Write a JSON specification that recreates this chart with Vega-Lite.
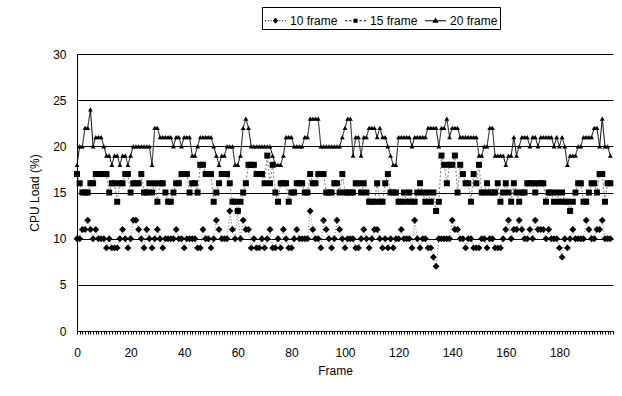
{
  "$schema": "https://vega.github.io/schema/vega-lite/v6.json",
  "width": 536,
  "height": 277,
  "autosize": {"type": "none"},
  "padding": {"left": 77, "top": 54, "right": 9, "bottom": 65},
  "background": "white",
  "config": {
    "view": {"stroke": null},
    "font": "Liberation Sans",
    "axis": {"labelFont": "Liberation Sans", "titleFont": "Liberation Sans", "labelColor": "black", "titleColor": "black", "domainColor": "black", "tickColor": "black", "titleFontWeight": "normal", "labelFontSize": 12, "titleFontSize": 12},
    "legend": {"strokeColor": "black", "strokeWidth": 1, "fillColor": "white"}
  },
  "data": {
    "values": [
      {"frame": 0, "10 frame": 10, "15 frame": 17, "20 frame": 18},
      {"frame": 1, "10 frame": 10, "15 frame": 16, "20 frame": 20},
      {"frame": 2, "10 frame": 11, "15 frame": 15, "20 frame": 20},
      {"frame": 3, "10 frame": 11, "15 frame": 15, "20 frame": 22},
      {"frame": 4, "10 frame": 12, "15 frame": 15, "20 frame": 22},
      {"frame": 5, "10 frame": 11, "15 frame": 16, "20 frame": 24},
      {"frame": 6, "10 frame": 10, "15 frame": 16, "20 frame": 20},
      {"frame": 7, "10 frame": 11, "15 frame": 17, "20 frame": 21},
      {"frame": 8, "10 frame": 10, "15 frame": 17, "20 frame": 21},
      {"frame": 9, "10 frame": 10, "15 frame": 17, "20 frame": 21},
      {"frame": 10, "10 frame": 10, "15 frame": 17, "20 frame": 20},
      {"frame": 11, "10 frame": 9, "15 frame": 17, "20 frame": 19},
      {"frame": 12, "10 frame": 10, "15 frame": 15, "20 frame": 19},
      {"frame": 13, "10 frame": 9, "15 frame": 16, "20 frame": 18},
      {"frame": 14, "10 frame": 9, "15 frame": 16, "20 frame": 19},
      {"frame": 15, "10 frame": 9, "15 frame": 14, "20 frame": 19},
      {"frame": 16, "10 frame": 10, "15 frame": 16, "20 frame": 18},
      {"frame": 17, "10 frame": 11, "15 frame": 16, "20 frame": 19},
      {"frame": 18, "10 frame": 10, "15 frame": 17, "20 frame": 19},
      {"frame": 19, "10 frame": 9, "15 frame": 17, "20 frame": 18},
      {"frame": 20, "10 frame": 10, "15 frame": 15, "20 frame": 19},
      {"frame": 21, "10 frame": 12, "15 frame": 16, "20 frame": 20},
      {"frame": 22, "10 frame": 12, "15 frame": 16, "20 frame": 20},
      {"frame": 23, "10 frame": 11, "15 frame": 16, "20 frame": 20},
      {"frame": 24, "10 frame": 10, "15 frame": 17, "20 frame": 20},
      {"frame": 25, "10 frame": 9, "15 frame": 15, "20 frame": 20},
      {"frame": 26, "10 frame": 11, "15 frame": 15, "20 frame": 20},
      {"frame": 27, "10 frame": 10, "15 frame": 16, "20 frame": 20},
      {"frame": 28, "10 frame": 9, "15 frame": 15, "20 frame": 18},
      {"frame": 29, "10 frame": 10, "15 frame": 16, "20 frame": 22},
      {"frame": 30, "10 frame": 11, "15 frame": 14, "20 frame": 22},
      {"frame": 31, "10 frame": 10, "15 frame": 16, "20 frame": 21},
      {"frame": 32, "10 frame": 9, "15 frame": 16, "20 frame": 21},
      {"frame": 33, "10 frame": 10, "15 frame": 15, "20 frame": 21},
      {"frame": 34, "10 frame": 10, "15 frame": 14, "20 frame": 21},
      {"frame": 35, "10 frame": 10, "15 frame": 14, "20 frame": 21},
      {"frame": 36, "10 frame": 10, "15 frame": 15, "20 frame": 20},
      {"frame": 37, "10 frame": 11, "15 frame": 16, "20 frame": 21},
      {"frame": 38, "10 frame": 10, "15 frame": 16, "20 frame": 21},
      {"frame": 39, "10 frame": 10, "15 frame": 17, "20 frame": 20},
      {"frame": 40, "10 frame": 9, "15 frame": 17, "20 frame": 21},
      {"frame": 41, "10 frame": 10, "15 frame": 17, "20 frame": 21},
      {"frame": 42, "10 frame": 10, "15 frame": 15, "20 frame": 21},
      {"frame": 43, "10 frame": 10, "15 frame": 16, "20 frame": 19},
      {"frame": 44, "10 frame": 10, "15 frame": 16, "20 frame": 19},
      {"frame": 45, "10 frame": 9, "15 frame": 15, "20 frame": 20},
      {"frame": 46, "10 frame": 9, "15 frame": 18, "20 frame": 21},
      {"frame": 47, "10 frame": 11, "15 frame": 18, "20 frame": 21},
      {"frame": 48, "10 frame": 10, "15 frame": 17, "20 frame": 21},
      {"frame": 49, "10 frame": 10, "15 frame": 17, "20 frame": 21},
      {"frame": 50, "10 frame": 9, "15 frame": 17, "20 frame": 21},
      {"frame": 51, "10 frame": 10, "15 frame": 14, "20 frame": 20},
      {"frame": 52, "10 frame": 12, "15 frame": 15, "20 frame": 19},
      {"frame": 53, "10 frame": 11, "15 frame": 16, "20 frame": 18},
      {"frame": 54, "10 frame": 10, "15 frame": 17, "20 frame": 19},
      {"frame": 55, "10 frame": 10, "15 frame": 17, "20 frame": 19},
      {"frame": 56, "10 frame": 10, "15 frame": 17, "20 frame": 20},
      {"frame": 57, "10 frame": 13, "15 frame": 16, "20 frame": 20},
      {"frame": 58, "10 frame": 11, "15 frame": 14, "20 frame": 20},
      {"frame": 59, "10 frame": 10, "15 frame": 14, "20 frame": 18},
      {"frame": 60, "10 frame": 13, "15 frame": 13, "20 frame": 18},
      {"frame": 61, "10 frame": 10, "15 frame": 14, "20 frame": 19},
      {"frame": 62, "10 frame": 12, "15 frame": 15, "20 frame": 22},
      {"frame": 63, "10 frame": 11, "15 frame": 16, "20 frame": 23},
      {"frame": 64, "10 frame": 11, "15 frame": 18, "20 frame": 22},
      {"frame": 65, "10 frame": 9, "15 frame": 18, "20 frame": 20},
      {"frame": 66, "10 frame": 10, "15 frame": 18, "20 frame": 20},
      {"frame": 67, "10 frame": 9, "15 frame": 17, "20 frame": 20},
      {"frame": 68, "10 frame": 9, "15 frame": 17, "20 frame": 20},
      {"frame": 69, "10 frame": 10, "15 frame": 17, "20 frame": 20},
      {"frame": 70, "10 frame": 9, "15 frame": 16, "20 frame": 20},
      {"frame": 71, "10 frame": 10, "15 frame": 19, "20 frame": 20},
      {"frame": 72, "10 frame": 11, "15 frame": 16, "20 frame": 20},
      {"frame": 73, "10 frame": 9, "15 frame": 18, "20 frame": 19},
      {"frame": 74, "10 frame": 9, "15 frame": 15, "20 frame": 18},
      {"frame": 75, "10 frame": 10, "15 frame": 14, "20 frame": 18},
      {"frame": 76, "10 frame": 9, "15 frame": 16, "20 frame": 18},
      {"frame": 77, "10 frame": 11, "15 frame": 16, "20 frame": 19},
      {"frame": 78, "10 frame": 10, "15 frame": 16, "20 frame": 21},
      {"frame": 79, "10 frame": 9, "15 frame": 14, "20 frame": 21},
      {"frame": 80, "10 frame": 9, "15 frame": 15, "20 frame": 21},
      {"frame": 81, "10 frame": 10, "15 frame": 15, "20 frame": 20},
      {"frame": 82, "10 frame": 11, "15 frame": 16, "20 frame": 20},
      {"frame": 83, "10 frame": 10, "15 frame": 16, "20 frame": 20},
      {"frame": 84, "10 frame": 10, "15 frame": 16, "20 frame": 20},
      {"frame": 85, "10 frame": 10, "15 frame": 15, "20 frame": 21},
      {"frame": 86, "10 frame": 10, "15 frame": 15, "20 frame": 21},
      {"frame": 87, "10 frame": 13, "15 frame": 17, "20 frame": 23},
      {"frame": 88, "10 frame": 11, "15 frame": 16, "20 frame": 23},
      {"frame": 89, "10 frame": 10, "15 frame": 16, "20 frame": 23},
      {"frame": 90, "10 frame": 10, "15 frame": 17, "20 frame": 23},
      {"frame": 91, "10 frame": 9, "15 frame": 17, "20 frame": 20},
      {"frame": 92, "10 frame": 12, "15 frame": 17, "20 frame": 20},
      {"frame": 93, "10 frame": 11, "15 frame": 15, "20 frame": 20},
      {"frame": 94, "10 frame": 10, "15 frame": 15, "20 frame": 20},
      {"frame": 95, "10 frame": 9, "15 frame": 15, "20 frame": 20},
      {"frame": 96, "10 frame": 10, "15 frame": 16, "20 frame": 20},
      {"frame": 97, "10 frame": 12, "15 frame": 16, "20 frame": 20},
      {"frame": 98, "10 frame": 11, "15 frame": 15, "20 frame": 20},
      {"frame": 99, "10 frame": 10, "15 frame": 17, "20 frame": 21},
      {"frame": 100, "10 frame": 9, "15 frame": 15, "20 frame": 22},
      {"frame": 101, "10 frame": 10, "15 frame": 15, "20 frame": 23},
      {"frame": 102, "10 frame": 10, "15 frame": 15, "20 frame": 23},
      {"frame": 103, "10 frame": 10, "15 frame": 15, "20 frame": 19},
      {"frame": 104, "10 frame": 9, "15 frame": 16, "20 frame": 21},
      {"frame": 105, "10 frame": 9, "15 frame": 16, "20 frame": 21},
      {"frame": 106, "10 frame": 10, "15 frame": 15, "20 frame": 19},
      {"frame": 107, "10 frame": 11, "15 frame": 16, "20 frame": 21},
      {"frame": 108, "10 frame": 10, "15 frame": 15, "20 frame": 21},
      {"frame": 109, "10 frame": 9, "15 frame": 14, "20 frame": 22},
      {"frame": 110, "10 frame": 10, "15 frame": 14, "20 frame": 22},
      {"frame": 111, "10 frame": 11, "15 frame": 14, "20 frame": 22},
      {"frame": 112, "10 frame": 11, "15 frame": 16, "20 frame": 21},
      {"frame": 113, "10 frame": 10, "15 frame": 14, "20 frame": 22},
      {"frame": 114, "10 frame": 9, "15 frame": 14, "20 frame": 21},
      {"frame": 115, "10 frame": 10, "15 frame": 16, "20 frame": 21},
      {"frame": 116, "10 frame": 9, "15 frame": 17, "20 frame": 20},
      {"frame": 117, "10 frame": 10, "15 frame": 15, "20 frame": 19},
      {"frame": 118, "10 frame": 9, "15 frame": 15, "20 frame": 18},
      {"frame": 119, "10 frame": 10, "15 frame": 15, "20 frame": 18},
      {"frame": 120, "10 frame": 10, "15 frame": 14, "20 frame": 21},
      {"frame": 121, "10 frame": 11, "15 frame": 14, "20 frame": 21},
      {"frame": 122, "10 frame": 10, "15 frame": 15, "20 frame": 21},
      {"frame": 123, "10 frame": 10, "15 frame": 14, "20 frame": 21},
      {"frame": 124, "10 frame": 10, "15 frame": 15, "20 frame": 21},
      {"frame": 125, "10 frame": 9, "15 frame": 14, "20 frame": 20},
      {"frame": 126, "10 frame": 12, "15 frame": 14, "20 frame": 21},
      {"frame": 127, "10 frame": 10, "15 frame": 15, "20 frame": 21},
      {"frame": 128, "10 frame": 9, "15 frame": 16, "20 frame": 21},
      {"frame": 129, "10 frame": 10, "15 frame": 15, "20 frame": 21},
      {"frame": 130, "10 frame": 10, "15 frame": 14, "20 frame": 21},
      {"frame": 131, "10 frame": 9, "15 frame": 15, "20 frame": 22},
      {"frame": 132, "10 frame": 9, "15 frame": 14, "20 frame": 22},
      {"frame": 133, "10 frame": 8, "15 frame": 15, "20 frame": 22},
      {"frame": 134, "10 frame": 7, "15 frame": 13, "20 frame": 22},
      {"frame": 135, "10 frame": 10, "15 frame": 14, "20 frame": 20},
      {"frame": 136, "10 frame": 10, "15 frame": 19, "20 frame": 22},
      {"frame": 137, "10 frame": 10, "15 frame": 18, "20 frame": 22},
      {"frame": 138, "10 frame": 10, "15 frame": 16, "20 frame": 23},
      {"frame": 139, "10 frame": 10, "15 frame": 18, "20 frame": 21},
      {"frame": 140, "10 frame": 12, "15 frame": 18, "20 frame": 22},
      {"frame": 141, "10 frame": 11, "15 frame": 19, "20 frame": 22},
      {"frame": 142, "10 frame": 11, "15 frame": 15, "20 frame": 22},
      {"frame": 143, "10 frame": 10, "15 frame": 18, "20 frame": 21},
      {"frame": 144, "10 frame": 10, "15 frame": 17, "20 frame": 21},
      {"frame": 145, "10 frame": 9, "15 frame": 16, "20 frame": 21},
      {"frame": 146, "10 frame": 10, "15 frame": 16, "20 frame": 21},
      {"frame": 147, "10 frame": 10, "15 frame": 14, "20 frame": 21},
      {"frame": 148, "10 frame": 9, "15 frame": 17, "20 frame": 21},
      {"frame": 149, "10 frame": 9, "15 frame": 16, "20 frame": 21},
      {"frame": 150, "10 frame": 9, "15 frame": 18, "20 frame": 19},
      {"frame": 151, "10 frame": 10, "15 frame": 15, "20 frame": 19},
      {"frame": 152, "10 frame": 10, "15 frame": 15, "20 frame": 20},
      {"frame": 153, "10 frame": 9, "15 frame": 16, "20 frame": 20},
      {"frame": 154, "10 frame": 10, "15 frame": 15, "20 frame": 22},
      {"frame": 155, "10 frame": 10, "15 frame": 15, "20 frame": 22},
      {"frame": 156, "10 frame": 9, "15 frame": 15, "20 frame": 19},
      {"frame": 157, "10 frame": 9, "15 frame": 16, "20 frame": 19},
      {"frame": 158, "10 frame": 9, "15 frame": 14, "20 frame": 19},
      {"frame": 159, "10 frame": 10, "15 frame": 15, "20 frame": 19},
      {"frame": 160, "10 frame": 11, "15 frame": 16, "20 frame": 18},
      {"frame": 161, "10 frame": 12, "15 frame": 15, "20 frame": 19},
      {"frame": 162, "10 frame": 10, "15 frame": 14, "20 frame": 19},
      {"frame": 163, "10 frame": 11, "15 frame": 16, "20 frame": 21},
      {"frame": 164, "10 frame": 11, "15 frame": 15, "20 frame": 19},
      {"frame": 165, "10 frame": 12, "15 frame": 14, "20 frame": 20},
      {"frame": 166, "10 frame": 11, "15 frame": 15, "20 frame": 21},
      {"frame": 167, "10 frame": 10, "15 frame": 15, "20 frame": 21},
      {"frame": 168, "10 frame": 10, "15 frame": 16, "20 frame": 21},
      {"frame": 169, "10 frame": 11, "15 frame": 16, "20 frame": 20},
      {"frame": 170, "10 frame": 10, "15 frame": 16, "20 frame": 21},
      {"frame": 171, "10 frame": 12, "15 frame": 15, "20 frame": 21},
      {"frame": 172, "10 frame": 11, "15 frame": 16, "20 frame": 20},
      {"frame": 173, "10 frame": 11, "15 frame": 16, "20 frame": 21},
      {"frame": 174, "10 frame": 11, "15 frame": 16, "20 frame": 21},
      {"frame": 175, "10 frame": 10, "15 frame": 14, "20 frame": 21},
      {"frame": 176, "10 frame": 11, "15 frame": 15, "20 frame": 21},
      {"frame": 177, "10 frame": 10, "15 frame": 15, "20 frame": 21},
      {"frame": 178, "10 frame": 10, "15 frame": 14, "20 frame": 20},
      {"frame": 179, "10 frame": 10, "15 frame": 15, "20 frame": 21},
      {"frame": 180, "10 frame": 9, "15 frame": 14, "20 frame": 20},
      {"frame": 181, "10 frame": 8, "15 frame": 15, "20 frame": 21},
      {"frame": 182, "10 frame": 10, "15 frame": 14, "20 frame": 20},
      {"frame": 183, "10 frame": 9, "15 frame": 14, "20 frame": 18},
      {"frame": 184, "10 frame": 10, "15 frame": 13, "20 frame": 19},
      {"frame": 185, "10 frame": 11, "15 frame": 14, "20 frame": 19},
      {"frame": 186, "10 frame": 10, "15 frame": 15, "20 frame": 19},
      {"frame": 187, "10 frame": 10, "15 frame": 16, "20 frame": 20},
      {"frame": 188, "10 frame": 10, "15 frame": 16, "20 frame": 20},
      {"frame": 189, "10 frame": 10, "15 frame": 14, "20 frame": 21},
      {"frame": 190, "10 frame": 12, "15 frame": 14, "20 frame": 21},
      {"frame": 191, "10 frame": 11, "15 frame": 15, "20 frame": 21},
      {"frame": 192, "10 frame": 10, "15 frame": 16, "20 frame": 21},
      {"frame": 193, "10 frame": 10, "15 frame": 16, "20 frame": 22},
      {"frame": 194, "10 frame": 11, "15 frame": 15, "20 frame": 22},
      {"frame": 195, "10 frame": 11, "15 frame": 17, "20 frame": 20},
      {"frame": 196, "10 frame": 12, "15 frame": 17, "20 frame": 23},
      {"frame": 197, "10 frame": 10, "15 frame": 14, "20 frame": 20},
      {"frame": 198, "10 frame": 10, "15 frame": 16, "20 frame": 20},
      {"frame": 199, "10 frame": 10, "15 frame": 16, "20 frame": 19}
    ]
  },
  "transform": [{"fold": ["10 frame", "15 frame", "20 frame"], "as": ["series", "load"]}],
  "encoding": {
    "x": {
      "field": "frame",
      "type": "quantitative",
      "scale": {"domain": [0, 200], "nice": false, "zero": false},
      "axis": {
        "title": "Frame",
        "titleX": 258,
        "tickCount": 200,
        "format": "d",
        "labelExpr": "datum.value % 20 === 0 && datum.value < 200 ? datum.label : ''",
        "labelOverlap": false,
        "labelFlush": false,
        "labelBound": false,
        "grid": false,
        "tickSize": 3,
        "labelPadding": 13,
        "titlePadding": 7
      }
    },
    "y": {
      "field": "load",
      "type": "quantitative",
      "scale": {"domain": [0, 30], "nice": false},
      "axis": {
        "title": "CPU Load (%)",
        "values": [0, 5, 10, 15, 20, 25, 30],
        "grid": true,
        "gridColor": "black",
        "gridOpacity": 1,
        "gridWidth": 1,
        "tickSize": 0,
        "labelPadding": 11,
        "titlePadding": 11
      }
    }
  },
  "layer": [
    {
      "mark": {"type": "line", "strokeWidth": 1},
      "encoding": {
        "detail": {"field": "series", "type": "nominal"},
        "color": {"field": "series", "type": "nominal", "scale": {"domain": ["10 frame", "15 frame", "20 frame"], "range": ["#7a7a7a", "#7a7a7a", "#000000"]}, "legend": null},
        "strokeDash": {"field": "series", "type": "nominal", "scale": {"domain": ["10 frame", "15 frame", "20 frame"], "range": [[1, 2], [2, 2], [1, 0]]}, "legend": null}
      }
    },
    {
      "mark": {"type": "point", "filled": true, "color": "black", "opacity": 1},
      "encoding": {
        "shape": {"field": "series", "type": "nominal", "scale": {"domain": ["10 frame", "15 frame", "20 frame"], "range": ["diamond", "square", "triangle-up"]}, "legend": null},
        "size": {"field": "series", "type": "ordinal", "scale": {"domain": ["10 frame", "15 frame", "20 frame"], "range": [48, 24, 50]}, "legend": null}
      }
    },
    {
      "transform": [{"filter": "false"}],
      "mark": {"type": "point", "filled": true, "color": "black", "opacity": 1, "size": 441},
      "encoding": {
        "shape": {
          "field": "series",
          "type": "nominal",
          "scale": {
            "domain": ["10 frame", "15 frame", "20 frame"],
            "range": [
              "M-1,-0.05h0.1v0.1h-0.1ZM-0.73,-0.05h0.1v0.1h-0.1ZM-0.46,-0.05h0.1v0.1h-0.1ZM0.36,-0.05h0.1v0.1h-0.1ZM0.63,-0.05h0.1v0.1h-0.1ZM0.9,-0.05h0.1v0.1h-0.1ZM0,-0.3L0.26,0L0,0.3L-0.26,0Z",
              "M-1,-0.05h0.22v0.1h-0.22ZM-0.6,-0.05h0.22v0.1h-0.22ZM0.38,-0.05h0.22v0.1h-0.22ZM0.78,-0.05h0.22v0.1h-0.22ZM-0.2,-0.2h0.4v0.4h-0.4Z",
              "M-1,-0.05h2v0.1h-2ZM0,-0.32L0.3,0.2H-0.3Z"
            ]
          },
          "legend": {
            "title": null,
            "orient": "none",
            "legendX": 185,
            "legendY": -47,
            "direction": "horizontal",
            "strokeColor": "black",
            "fillColor": "white",
            "padding": 2,
            "symbolSize": 441,
            "symbolFillColor": "black",
            "labelFont": "Liberation Sans",
            "labelFontSize": 12,
            "labelColor": "black",
            "labelOffset": 3,
            "columnPadding": 4,
            "encode": {
              "legend": {
                "update": {
                  "stroke": {"value": "black"},
                  "strokeWidth": {"value": 1},
                  "fill": {"value": "white"}
                }
              }
            }
          }
        }
      }
    }
  ],
  "resolve": {"scale": {"shape": "independent", "size": "independent"}}
}
